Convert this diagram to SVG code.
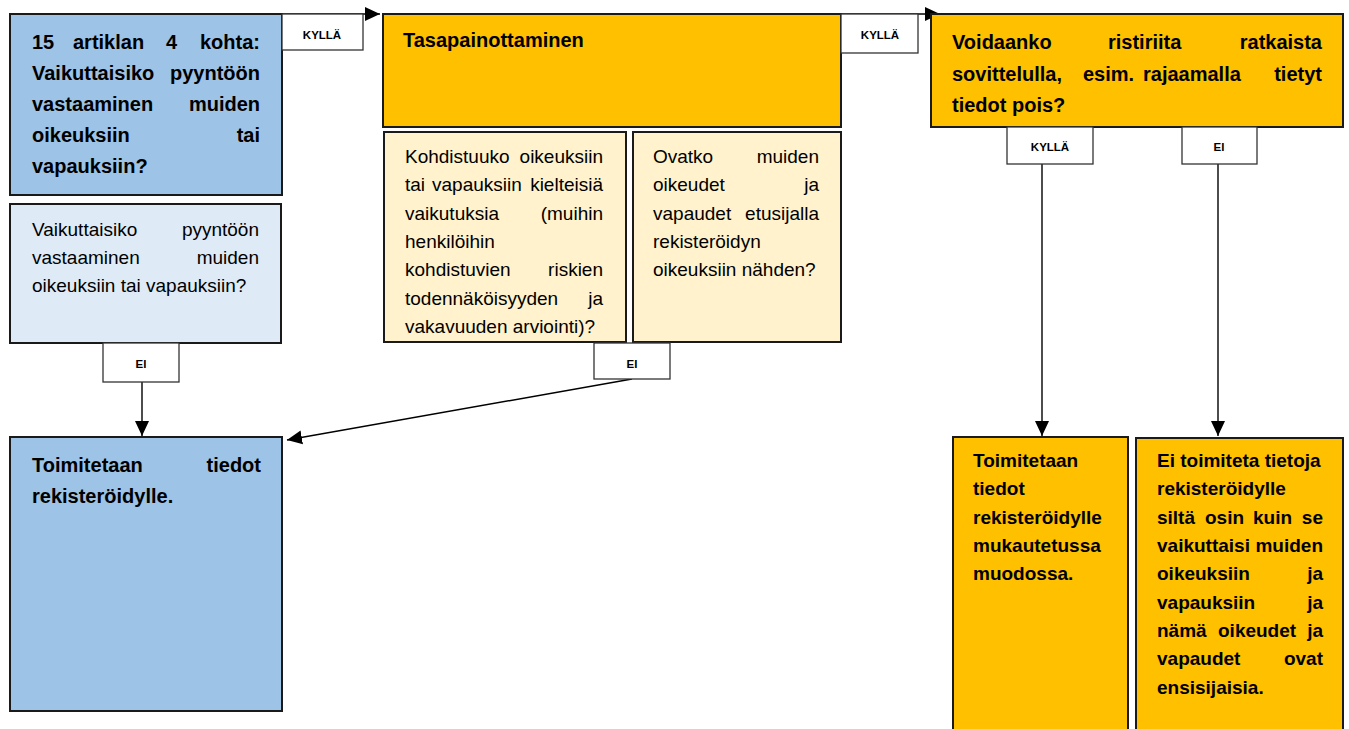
<svg xmlns="http://www.w3.org/2000/svg" width="1349" height="729" viewBox="0 0 1349 729">
<style>
.box{stroke:#1a1a1a;stroke-width:2}
.lbl{fill:#fff;stroke:#333;stroke-width:1.3}
.blue{fill:#9DC3E6}
.lblue{fill:#DEEBF7}
.orange{fill:#FFC000}
.cream{fill:#FFF2CC}
text{font-family:"Liberation Sans",Arial,sans-serif;fill:#000}
.b{font-weight:bold;font-size:20px}
.bs{font-weight:bold;font-size:19px}
.r{font-size:19px}
.l{font-weight:bold;font-size:11.5px;text-anchor:middle}
.e{text-anchor:end}
.con{stroke:#000;stroke-width:1.4;fill:none}
</style>
<defs>
<marker id="ah" markerUnits="userSpaceOnUse" markerWidth="16" markerHeight="16" viewBox="0 0 16 16" refX="15" refY="8" orient="auto">
<path d="M0,1 L15,8 L0,15 Z" fill="#000"/>
</marker>
</defs>

<g id="connectors">
<path class="con" d="M282,14 H380" marker-end="url(#ah)"/>
<path class="con" d="M841,14 H940" marker-end="url(#ah)"/>
<path class="con" d="M142,382 V436" marker-end="url(#ah)"/>
<path class="con" d="M632,379 L287,440" marker-end="url(#ah)"/>
<path class="con" d="M1042,164 V436" marker-end="url(#ah)"/>
<path class="con" d="M1218,164 V436" marker-end="url(#ah)"/>
</g>

<g id="n-art15">
<rect class="box blue" x="10" y="14" width="272" height="181"/>
<text class="b" x="32" y="49">15</text>
<text class="b" x="73" y="49">artiklan</text>
<text class="b" x="166" y="49">4</text>
<text class="b e" x="260" y="49">kohta:</text>
<text class="b" x="32" y="80">Vaikuttaisiko</text>
<text class="b e" x="260" y="80">pyyntöön</text>
<text class="b" x="32" y="111">vastaaminen</text>
<text class="b e" x="260" y="111">muiden</text>
<text class="b" x="32" y="142">oikeuksiin</text>
<text class="b e" x="260" y="142">tai</text>
<text class="b" x="32" y="173">vapauksiin?</text>
</g>

<g id="l-kylla1">
<rect class="lbl" x="282" y="14" width="81" height="36"/>
<text class="l" x="322" y="39">KYLLÄ</text>
</g>

<g id="n-question">
<rect class="box lblue" x="10" y="204" width="271" height="139"/>
<text class="r" x="32" y="236">Vaikuttaisiko</text>
<text class="r e" x="259" y="236">pyyntöön</text>
<text class="r" x="32" y="264">vastaaminen</text>
<text class="r e" x="259" y="264">muiden</text>
<text class="r" x="32" y="292">oikeuksiin tai vapauksiin?</text>
</g>

<g id="l-ei1">
<rect class="lbl" x="103" y="343" width="76" height="39"/>
<text class="l" x="141" y="368">EI</text>
</g>

<g id="n-deliver">
<rect class="box blue" x="10" y="437" width="272" height="274"/>
<text class="b" x="32" y="472">Toimitetaan</text>
<text class="b e" x="261" y="472">tiedot</text>
<text class="b" x="32" y="503">rekisteröidylle.</text>
</g>

<g id="n-balance">
<rect class="box orange" x="383" y="14" width="458" height="113"/>
<text class="b" x="403" y="47">Tasapainottaminen</text>
</g>

<g id="n-effects">
<rect class="box cream" x="384" y="132" width="242" height="210"/>
<text class="r" x="405" y="163">Kohdistuuko</text>
<text class="r e" x="603" y="163">oikeuksiin</text>
<text class="r" x="405" y="191">tai</text>
<text class="r" x="432" y="191">vapauksiin</text>
<text class="r e" x="603" y="191">kielteisiä</text>
<text class="r" x="405" y="220">vaikutuksia</text>
<text class="r e" x="603" y="220">(muihin</text>
<text class="r" x="405" y="248">henkilöihin</text>
<text class="r" x="405" y="276">kohdistuvien</text>
<text class="r e" x="603" y="276">riskien</text>
<text class="r" x="405" y="305">todennäköisyyden</text>
<text class="r e" x="603" y="305">ja</text>
<text class="r" x="405" y="333">vakavuuden arviointi)?</text>
</g>

<g id="n-priority">
<rect class="box cream" x="633" y="132" width="208" height="210"/>
<text class="r" x="653" y="163">Ovatko</text>
<text class="r e" x="819" y="163">muiden</text>
<text class="r" x="653" y="191">oikeudet</text>
<text class="r e" x="819" y="191">ja</text>
<text class="r" x="653" y="220">vapaudet</text>
<text class="r e" x="819" y="220">etusijalla</text>
<text class="r" x="653" y="248">rekisteröidyn</text>
<text class="r" x="653" y="276">oikeuksiin nähden?</text>
</g>

<g id="l-ei2">
<rect class="lbl" x="594" y="343" width="76" height="36"/>
<text class="l" x="632" y="368">EI</text>
</g>

<g id="l-kylla2">
<rect class="lbl" x="841" y="14" width="77" height="39"/>
<text class="l" x="880" y="39">KYLLÄ</text>
</g>

<g id="n-conciliate">
<rect class="box orange" x="931" y="14" width="412" height="113"/>
<text class="b" x="952" y="49">Voidaanko</text>
<text class="b" x="1108" y="49">ristiriita</text>
<text class="b e" x="1322" y="49">ratkaista</text>
<text class="b" x="952" y="81">sovittelulla,</text>
<text class="b" x="1083" y="81">esim.</text>
<text class="b" x="1143" y="81">rajaamalla</text>
<text class="b e" x="1322" y="81">tietyt</text>
<text class="b" x="952" y="112">tiedot pois?</text>
</g>

<g id="l-kylla3">
<rect class="lbl" x="1007" y="127" width="86" height="37"/>
<text class="l" x="1050" y="151">KYLLÄ</text>
</g>

<g id="l-ei3">
<rect class="lbl" x="1182" y="127" width="75" height="37"/>
<text class="l" x="1219" y="151">EI</text>
</g>

<g id="n-adapted">
<rect class="box orange" x="953" y="437" width="175" height="300"/>
<text class="bs" x="973" y="467">Toimitetaan</text>
<text class="bs" x="973" y="495">tiedot</text>
<text class="bs" x="973" y="524">rekisteröidylle</text>
<text class="bs" x="973" y="552">mukautetussa</text>
<text class="bs" x="973" y="580">muodossa.</text>
</g>

<g id="n-refuse">
<rect class="box orange" x="1136" y="438" width="207" height="300"/>
<text class="bs" x="1157" y="467">Ei toimiteta tietoja</text>
<text class="bs" x="1157" y="495">rekisteröidylle</text>
<text class="bs" x="1157" y="524">siltä</text>
<text class="bs" x="1205" y="524">osin</text>
<text class="bs" x="1253" y="524">kuin</text>
<text class="bs e" x="1323" y="524">se</text>
<text class="bs" x="1157" y="552">vaikuttaisi</text>
<text class="bs e" x="1323" y="552">muiden</text>
<text class="bs" x="1157" y="580">oikeuksiin</text>
<text class="bs e" x="1323" y="580">ja</text>
<text class="bs" x="1157" y="609">vapauksiin</text>
<text class="bs e" x="1323" y="609">ja</text>
<text class="bs" x="1157" y="637">nämä</text>
<text class="bs" x="1218" y="637">oikeudet</text>
<text class="bs e" x="1323" y="637">ja</text>
<text class="bs" x="1157" y="665">vapaudet</text>
<text class="bs e" x="1323" y="665">ovat</text>
<text class="bs" x="1157" y="694">ensisijaisia.</text>
</g>
</svg>
